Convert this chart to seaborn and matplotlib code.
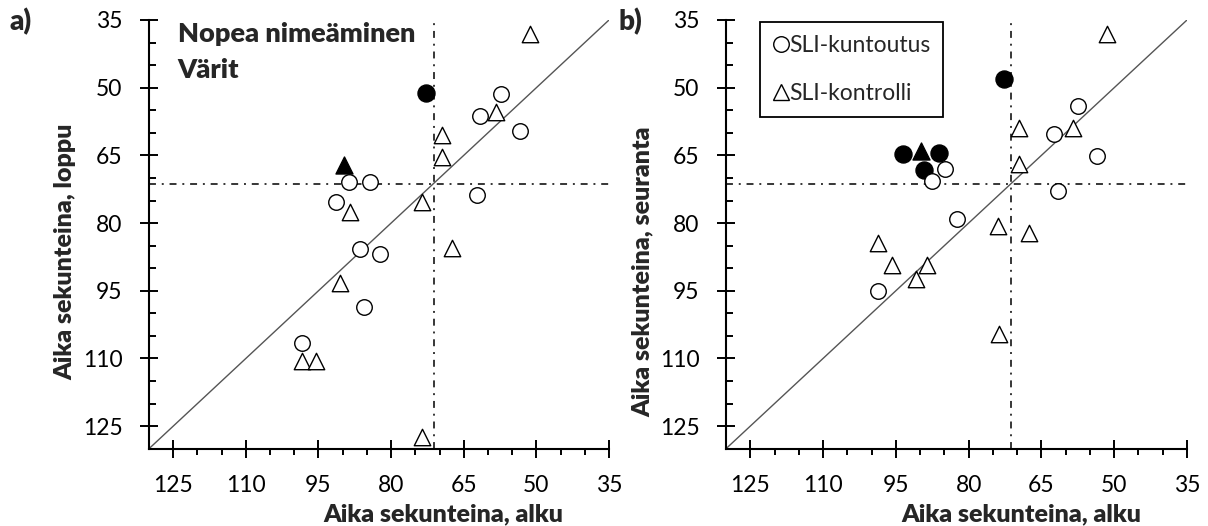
import numpy as np
import pandas as pd
import matplotlib
matplotlib.use("Agg")
import matplotlib.pyplot as plt
from matplotlib.lines import Line2D
from matplotlib.ticker import FixedLocator
import seaborn as sns

# ---- data: naming times in seconds (start vs. end / follow-up) ----
# panel a: start (alku) vs end (loppu)
a_kunt_alku = [72.8, 57.4, 61.7, 53.3, 88.6, 84.3, 62.3, 91.4, 86.4, 82.3, 85.6, 98.5]
a_kunt_loppu = [51.2, 51.4, 56.3, 59.6, 70.8, 70.8, 73.8, 75.4, 85.7, 86.8, 98.5, 106.6]
a_kunt_muutos = [True, False, False, False, False, False, False, False, False, False, False, False]

a_kontr_alku = [89.7, 51.3, 58.4, 69.5, 69.5, 88.4, 73.6, 67.4, 90.6, 98.4, 95.5, 73.6]
a_kontr_loppu = [67.2, 38.1, 55.3, 60.5, 65.4, 77.5, 75.3, 85.5, 93.3, 110.5, 110.5, 127.4]
a_kontr_muutos = [True, False, False, False, False, False, False, False, False, False, False, False]

# panel b: start (alku) vs follow-up (seuranta)
b_kunt_alku = [72.8, 93.6, 86.1, 89.1, 57.5, 62.5, 53.5, 84.8, 87.6, 61.5, 82.4, 98.6]
b_kunt_seuranta = [48.0, 64.7, 64.4, 68.2, 54.0, 60.3, 65.2, 68.1, 70.6, 72.8, 79.1, 95.1]
b_kunt_muutos = [True, True, True, True, False, False, False, False, False, False, False, False]

b_kontr_alku = [89.9, 51.5, 69.6, 58.5, 69.6, 73.9, 67.5, 98.6, 95.7, 88.5, 90.8, 73.7]
b_kontr_seuranta = [64.1, 38.1, 59.0, 59.0, 66.9, 80.7, 82.2, 84.5, 89.4, 89.4, 92.5, 104.5]
b_kontr_muutos = [True, False, False, False, False, False, False, False, False, False, False, False]

# reference (group mean) lines
ref_x = 71.2
ref_y = 71.4

ticks = [125, 110, 95, 80, 65, 50, 35]
minor_ticks = [v for v in range(40, 130, 5) if v not in ticks]
axis_min, axis_max = 130, 35

group_labels = ["SLI-kuntoutus", "SLI-kontrolli"]
x_label = "Aika sekunteina, alku"
y_labels = ["Aika sekunteina, loppu", "Aika sekunteina, seuranta"]
title_lines = ["Nopea nimeäminen", "Värit"]
panel_tags = ["a)", "b)"]


def frame(alku, aika, muutos, ryhma):
    return pd.DataFrame({"alku": alku, "aika": aika, "muutos": muutos, "ryhma": ryhma})


panels = [
    pd.concat([frame(a_kunt_alku, a_kunt_loppu, a_kunt_muutos, group_labels[0]),
               frame(a_kontr_alku, a_kontr_loppu, a_kontr_muutos, group_labels[1])]),
    pd.concat([frame(b_kunt_alku, b_kunt_seuranta, b_kunt_muutos, group_labels[0]),
               frame(b_kontr_alku, b_kontr_seuranta, b_kontr_muutos, group_labels[1])]),
]

sns.set_style("ticks")
plt.rcParams["font.family"] = ["Lato", "DejaVu Sans"]
plt.rcParams["lines.scale_dashes"] = False

W, H = 1208, 526
fig = plt.figure(figsize=(W / 100, H / 100), dpi=100)
boxes = [(149, 20, 460, 428.7), (726, 20, 461, 428.7)]

markers = {group_labels[0]: ("o", 125, 150), group_labels[1]: ("^", 140, 150)}
dashdot = (0, (5.0, 4.2, 1.4, 4.2))
heavy = "heavy"

axes = []
for i, (l, t, w, h) in enumerate(boxes):
    ax = fig.add_axes([l / W, 1 - (t + h) / H, w / W, h / H])
    axes.append(ax)
    df = panels[i]

    # identity line and mean reference lines
    ax.plot([axis_min, axis_max], [axis_min, axis_max], color="#555555", lw=1.0, zorder=1)
    ax.plot([ref_x, ref_x], [axis_min, axis_max], color="black", lw=1.1, ls=dashdot, zorder=1)
    ax.plot([axis_min, axis_max], [ref_y, ref_y], color="black", lw=1.1, ls=dashdot, zorder=1)

    for grp in group_labels:
        mk, s_open, s_fill = markers[grp]
        sub = df[df["ryhma"] == grp]
        filled = sub[sub["muutos"]]
        hollow = sub[~sub["muutos"]]
        sns.scatterplot(data=filled, x="alku", y="aika", ax=ax, marker=mk, s=s_fill,
                        color="black", edgecolor="black", linewidth=1.0, zorder=3, legend=False)
        sns.scatterplot(data=hollow, x="alku", y="aika", ax=ax, marker=mk, s=s_open,
                        color="white", edgecolor="black", linewidth=1.0, zorder=4, legend=False)

    ax.set_xlim(axis_min, axis_max)
    ax.set_ylim(axis_min, axis_max)
    ax.xaxis.set_major_locator(FixedLocator(ticks))
    ax.yaxis.set_major_locator(FixedLocator(ticks))
    ax.xaxis.set_minor_locator(FixedLocator(minor_ticks))
    ax.yaxis.set_minor_locator(FixedLocator(minor_ticks))

    for side in ["top", "right"]:
        ax.spines[side].set_visible(False)
    for side in ["left", "bottom"]:
        ax.spines[side].set_linewidth(1.5)
        ax.spines[side].set_color("black")

    ax.tick_params(axis="both", which="major", direction="inout", length=13, width=1.4,
                   labelsize=16.5, pad=12.5, colors="black")
    ax.tick_params(axis="x", which="minor", direction="out", length=4, width=1.4, colors="black")
    ax.tick_params(axis="y", which="minor", direction="in", length=5, width=1.4, colors="black")

    ax.set_xlabel(x_label, fontsize=18, fontweight=heavy)
    ax.set_ylabel(y_labels[i], fontsize=18, fontweight=heavy)
    ax.xaxis.set_label_coords(0.64, -0.127)
    ax.patch.set_visible(False)

axes[0].yaxis.set_label_coords(-0.157, 0.46)
axes[1].yaxis.set_label_coords(-0.156, 0.412)

# panel a heading
axes[0].text(0.062, 0.949, title_lines[0], transform=axes[0].transAxes,
             fontsize=19.5, fontweight=heavy, va="baseline", ha="left")
axes[0].text(0.062, 0.865, title_lines[1], transform=axes[0].transAxes,
             fontsize=19.5, fontweight=heavy, va="baseline", ha="left")

# legend in panel b
handles = [
    Line2D([], [], marker="o", ls="none", markersize=11.2, markerfacecolor="white",
           markeredgecolor="black", markeredgewidth=1.0),
    Line2D([], [], marker="^", ls="none", markersize=11.8, markerfacecolor="white",
           markeredgecolor="black", markeredgewidth=1.0),
]
leg = axes[1].legend(handles, group_labels, loc="upper left", bbox_to_anchor=(0.074, 0.995),
                     frameon=True, fancybox=False, edgecolor="black", framealpha=1,
                     fontsize=16.5, handlelength=0.7, handletextpad=0.0, borderpad=0.55,
                     labelspacing=1.2, borderaxespad=0)
leg.get_frame().set_linewidth(1.3)

# panel tags
fig.text(10 / W, 1 - 30 / H, panel_tags[0], fontsize=20, fontweight=heavy, va="baseline", ha="left")
fig.text(618 / W, 1 - 30 / H, panel_tags[1], fontsize=20, fontweight=heavy, va="baseline", ha="left")

fig.savefig("out.png", dpi=100, facecolor="white")
